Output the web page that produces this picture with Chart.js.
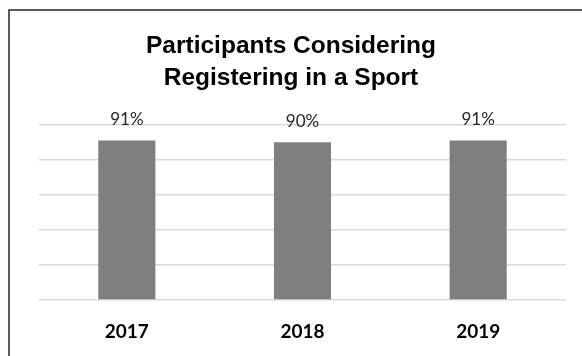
<!DOCTYPE html>
<html>
<head>
<meta charset="utf-8">
<script src="https://cdn.jsdelivr.net/npm/chart.js@4/dist/chart.umd.min.js"></script>
<style>
  html, body { margin: 0; padding: 0; background: #fff; }
  #wrap { width: 582px; height: 356px; position: relative; }
</style>
</head>
<body>
<div id="wrap"><canvas id="c" width="582" height="356"></canvas></div>
<script>
const titleLines = ["Participants Considering", "Registering in a Sport"];
const categories = ["2017", "2018", "2019"];
const values = [91, 90, 91];
const valueLabels = ["91%", "90%", "91%"];
const yTicks = [0, 20, 40, 60, 80, 100];

const frame = {
  id: 'frame',
  beforeDraw(chart) {
    const ctx = chart.ctx;
    ctx.save();
    ctx.strokeStyle = '#262626';
    ctx.lineWidth = 1.5;
    ctx.strokeRect(9, 10, 700, 500);
    ctx.restore();
  }
};

const valueLabelPlugin = {
  id: 'valueLabels',
  afterDatasetsDraw(chart) {
    const ctx = chart.ctx;
    const meta = chart.getDatasetMeta(0);
    ctx.save();
    ctx.font = '17px Lato, "Open Sans", sans-serif';
    ctx.fillStyle = '#262626';
    ctx.textAlign = 'center';
    ctx.textBaseline = 'middle';
    meta.data.forEach((bar, i) => {
      ctx.fillText(valueLabels[i], bar.x, bar.y - 21);
    });
    ctx.restore();
  }
};

new Chart(document.getElementById('c'), {
  type: 'bar',
  data: {
    labels: categories,
    datasets: [{
      data: values,
      backgroundColor: '#7f7f7f',
      borderWidth: 0,
      categoryPercentage: 1.0,
      barPercentage: 0.325
    }]
  },
  options: {
    responsive: false,
    animation: false,
    devicePixelRatio: 1,
    layout: { padding: { left: 16, right: 16, top: 30, bottom: 0 } },
    plugins: {
      legend: { display: false },
      tooltip: { enabled: false },
      title: {
        display: true,
        text: titleLines,
        color: '#000',
        font: { family: '"Liberation Sans", Arial, sans-serif', size: 24.5, weight: 'bold', lineHeight: 1.3 },
        padding: { top: 0, bottom: 31 }
      }
    },
    scales: {
      x: {
        afterFit(scale) { scale.height = 56; },
        grid: { display: false, drawTicks: false },
        border: { display: false },
        ticks: {
          color: '#000',
          padding: 20,
          font: { family: 'Lato, "Open Sans", sans-serif', size: 19, weight: 'bold' }
        }
      },
      y: {
        min: 0,
        max: 100,
        afterFit(scale) { scale.width = 23; },
        afterBuildTicks(scale) { scale.ticks = yTicks.map(v => ({ value: v })); },
        grid: { color: '#d9d9d9', lineWidth: 1.5, drawTicks: false },
        border: { display: false },
        ticks: { display: false }
      }
    }
  },
  plugins: [frame, valueLabelPlugin]
});
</script>
</body>
</html>
